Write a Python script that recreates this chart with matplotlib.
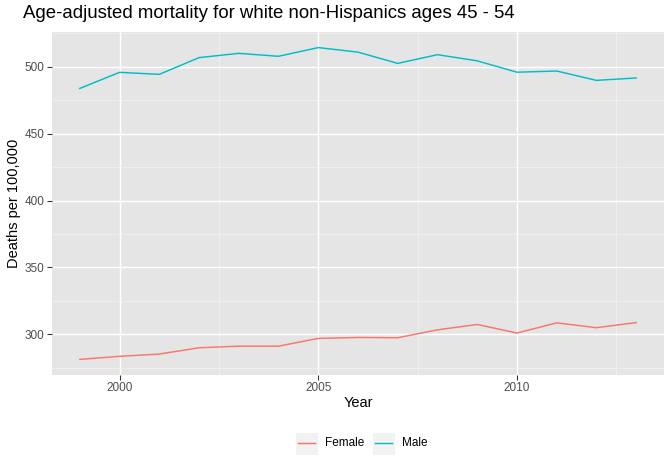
import matplotlib
matplotlib.use("Agg")
import matplotlib.pyplot as plt
from matplotlib.lines import Line2D
from matplotlib.patches import Rectangle

years = [1999, 2000, 2001, 2002, 2003, 2004, 2005, 2006, 2007, 2008, 2009, 2010, 2011, 2012, 2013]
female = [281.3, 283.6, 285.3, 290.0, 291.2, 291.2, 297.0, 297.7, 297.5, 303.4, 307.4, 301.0, 308.6, 305.0, 308.8]
male = [483.8, 495.8, 494.3, 506.8, 510.0, 507.8, 514.3, 510.9, 502.5, 509.0, 504.4, 495.9, 496.8, 489.8, 491.6]
series_names = ["Female", "Male"]
colors = ["#F8766D", "#00BFC4"]
xticks = [2000, 2005, 2010]
yticks = [300, 350, 400, 450, 500]

plt.rcParams['font.family'] = ['Liberation Sans', 'DejaVu Sans']

W, H = 672, 470
fig = plt.figure(figsize=(W/96, H/96), dpi=96)
L, R, T, B = 52, 664, 32, 375
ax = fig.add_axes([L/W, 1-B/H, (R-L)/W, (B-T)/H])
ax.set_facecolor("#E5E5E5")
for s in ax.spines.values():
    s.set_visible(False)

ax.plot(years, female, color=colors[0], lw=1.1, zorder=3)
ax.plot(years, male, color=colors[1], lw=1.1, zorder=3)

ax.set_xticks(xticks)
ax.set_yticks(yticks)
ax.set_xticks([1997.5, 2002.5, 2007.5, 2012.5], minor=True)
ax.set_yticks([275, 325, 375, 425, 475, 525], minor=True)

ymin, ymax = min(female), max(male)
yr = ymax - ymin
ax.set_ylim(ymin - 0.05*yr, ymax + 0.05*yr)
xr = years[-1] - years[0]
ax.set_xlim(years[0] - 0.05*xr, years[-1] + 0.05*xr)

ax.grid(which="major", color="white", lw=1.1, zorder=0)
ax.grid(which="minor", color="#F2F2F2", lw=0.55, zorder=0)
ax.set_axisbelow(True)
ax.tick_params(which="major", length=3.5, width=0.8, color="#333333", labelcolor="#4D4D4D", labelsize=8.8, pad=2)
ax.tick_params(which="minor", length=0)

fig.text((L+R)/2/W, 1-403/H, "Year", fontsize=11, ha="center", va="center")
fig.text(14/W, 1-(T+B)/2/H, "Deaths per 100,000", fontsize=11, ha="center", va="center", rotation=90)
fig.text(23/W, 1-14/H, "Age-adjusted mortality for white non-Hispanics ages 45 - 54",
         fontsize=14, va="center", ha="left")

# legend drawn in figure pixel coords
leg_y = 443
key_x = [295, 372]
for name, c, kx in zip(series_names, colors, key_x):
    fig.patches.append(Rectangle((kx/W, 1-(leg_y+11.5)/H), 23/W, 23/H, transform=fig.transFigure,
                                 facecolor="#F2F2F2", edgecolor="white", lw=0.8))
    fig.lines.append(Line2D([(kx+3)/W, (kx+20)/W], [1-leg_y/H, 1-leg_y/H], transform=fig.transFigure,
                            color=c, lw=1.1))
    fig.text((kx+30)/W, 1-leg_y/H, name, fontsize=8.8, ha="left", va="center")

fig.savefig("out.png", dpi=96)
